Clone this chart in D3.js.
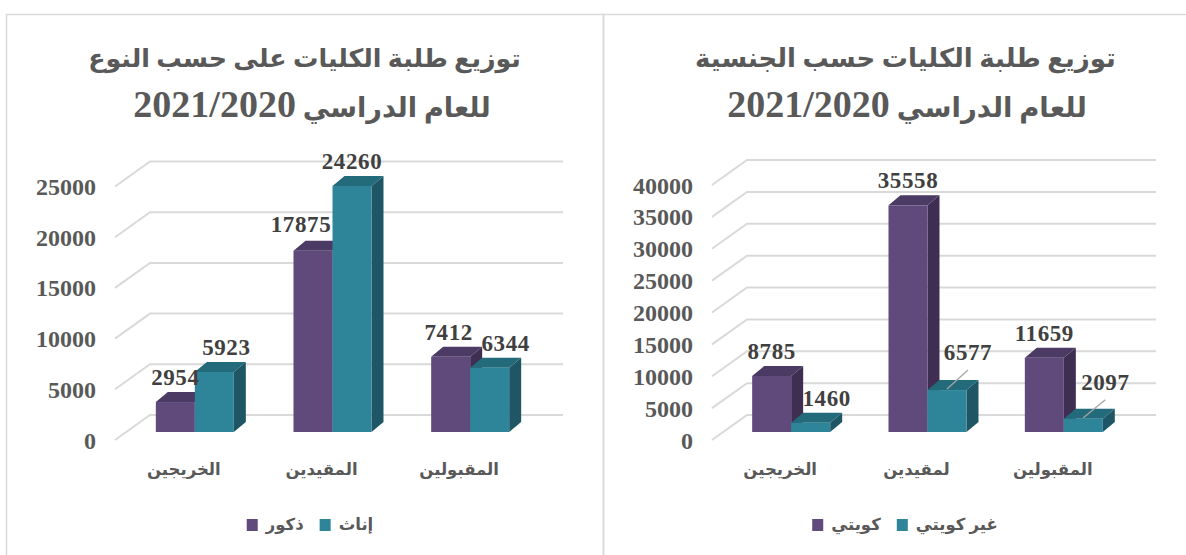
<!DOCTYPE html>
<html>
<head>
<meta charset="utf-8">
<script src="https://cdn.jsdelivr.net/npm/d3@7"></script>
<style>
  body { margin: 0; background: #fff; }
  svg text { font-family: "Liberation Serif", "DejaVu Sans", serif; font-weight: bold; }
</style>
</head>
<body>
<svg id="svg-1" width="1186" height="555"></svg>
<script>
// chart 1 : by gender
const genderCategories = ["الخريجين", "المقيدين", "المقبولين"];
const genderSeries = ["ذكور", "إناث"];
const maleValues = [2954, 17875, 7412];
const femaleValues = [5923, 24260, 6344];
const genderTicks = [0, 5000, 10000, 15000, 20000, 25000];
const genderTitle = ["توزيع طلبة الكليات على حسب النوع", "للعام الدراسي 2021/2020"];

// chart 2 : by nationality
const nationCategories = ["الخريجين", "لمقيدين", "المقبولين"];
const nationSeries = ["كويتي", "غير كويتي"];
const kuwaitiValues = [8785, 35558, 11659];
const nonKuwaitiValues = [1460, 6577, 2097];
const nationTicks = [0, 5000, 10000, 15000, 20000, 25000, 30000, 35000, 40000];
const nationTitle = ["توزيع طلبة الكليات حسب الجنسية", "للعام الدراسي 2021/2020"];

const fronts = ["#5f4a7b", "#2e8599"],
  tops = ["#4b3a63", "#236a7b"],
  sides = ["#3e2f52", "#1f5666"];

const svg = d3.select("#svg-1");
svg.append("rect").attr("width", 1186).attr("height", 555).attr("fill", "#fff");

// font size that makes a string reach a given width
function fitSize(str, size, target) {
  const t = svg.append("text").style("font-size", size + "px").text(str);
  const len = t.node().getComputedTextLength();
  t.remove();
  return size * target / len;
}

function draw(opt) {
  const base = 432;             // floor of the bars
  const wall = [35, -25];       // front plane -> back wall
  const plane = [11, -8];       // front plane -> bar front
  const depth = [12, -10];      // bar depth
  const groupW = 78;

  const g = svg.append("g");

  g.append("rect")
    .attr("x", opt.frame[0] + 0.5).attr("y", 14.5)
    .attr("width", opt.frame[1] - opt.frame[0]).attr("height", 600)
    .attr("fill", "none").attr("stroke", "#d9d9d9").attr("stroke-width", 1.5);

  const x0 = d3.scaleBand().domain(opt.categories).range(opt.xRange);
  const x1 = d3.scaleBand().domain(opt.series).range([0, groupW]);
  const y = d3.scaleLinear().domain([0, d3.max(opt.ticks)]).range([base, opt.yTop]);

  // walls / gridlines
  const xa = opt.xRange[0], xb = opt.xRange[1];
  g.selectAll(".grid").data(opt.ticks).enter()
    .append("polyline")
    .attr("class", "grid")
    .attr("points", d => {
      const fy = y(d) + 8, by = fy + wall[1];
      return [[xa, fy], [xa + wall[0], by], [xb + wall[0], by]].join(" ");
    })
    .attr("fill", "none").attr("stroke", "#d9d9d9").attr("stroke-width", 2);

  g.selectAll(".tick").data(opt.ticks).enter()
    .append("text")
    .attr("class", "tick")
    .attr("x", xa - 19)
    .attr("y", d => y(d) + 16.5)
    .attr("text-anchor", "end")
    .style("font-size", "24px")
    .attr("fill", "#595959")
    .text(d => d);

  // bars
  const rows = [];
  opt.categories.forEach((c, i) => {
    opt.series.forEach((s, j) => rows.push({ c, s, i, j, v: opt.values[j][i] }));
  });
  const w = x1.bandwidth();
  rows.forEach(d => {
    d.x = x0(d.c) + (x0.step() - groupW) / 2 + plane[0] + x1(d.s);
    d.yt = y(d.v);
  });

  const bar = g.selectAll(".bar").data(rows).enter().append("g").attr("class", "bar");
  bar.append("polygon")
    .attr("points", d => [[d.x + w, d.yt], [d.x + w + depth[0], d.yt + depth[1]],
      [d.x + w + depth[0], base + depth[1]], [d.x + w, base]].join(" "))
    .attr("fill", d => sides[d.j]);
  bar.append("polygon")
    .attr("points", d => [[d.x, d.yt], [d.x + w, d.yt], [d.x + w + depth[0], d.yt + depth[1]],
      [d.x + depth[0], d.yt + depth[1]]].join(" "))
    .attr("fill", d => tops[d.j]);
  bar.append("rect")
    .attr("x", d => d.x).attr("y", d => d.yt)
    .attr("width", w).attr("height", d => base - d.yt)
    .attr("fill", d => fronts[d.j]);

  // data labels
  rows.forEach(d => {
    const sh = opt.shift[d.j][d.i];
    d.lx = d.x + w / 2 + sh[0];
    d.ly = d.yt - 17 + sh[1];
    d.leader = sh[1] < -5;
  });
  g.selectAll(".leader").data(rows.filter(d => d.leader)).enter()
    .append("line")
    .attr("x1", d => d.lx).attr("y1", d => d.ly + 10)
    .attr("x2", d => d.x + w / 2).attr("y2", d => d.yt - 1)
    .attr("stroke", "#a6a6a6").attr("stroke-width", 1.3);
  g.selectAll(".label").data(rows).enter()
    .append("text")
    .attr("x", d => d.lx).attr("y", d => d.ly)
    .attr("text-anchor", "middle")
    .style("font-size", "23px")
    .style("letter-spacing", "0.6px")
    .attr("fill", "#404040")
    .text(d => d.v);

  // category axis
  g.selectAll(".cat").data(opt.categories).enter()
    .append("text")
    .attr("x", d => x0(d) + x0.step() / 2)
    .attr("y", 475)
    .attr("text-anchor", "middle")
    .style("font-size", "16.5px")
    .attr("fill", "#595959")
    .text(d => d);

  // title
  g.append("text")
    .attr("x", opt.titleX[0]).attr("y", 67)
    .attr("text-anchor", "middle")
    .style("direction", "rtl")
    .style("font-size", fitSize(opt.title[0], 30, opt.titleW[0]) + "px")
    .attr("fill", "#595959")
    .text(opt.title[0]);

  const sp = opt.title[1].lastIndexOf(" ");
  const ar = opt.title[1].slice(0, sp), num = opt.title[1].slice(sp + 1);
  const t2 = g.append("text")
    .attr("x", opt.titleX[1]).attr("y", 117)
    .attr("text-anchor", "middle")
    .style("direction", "rtl")
    .attr("fill", "#595959");
  t2.append("tspan").style("font-size", fitSize(ar, 30, opt.titleW[1]) + "px").text(ar + " ");
  t2.append("tspan").style("font-size", "38px").text(num);

  // legend
  const lg = g.append("g");
  let cx = 0;
  opt.series.forEach((s, j) => {
    if (j > 0) cx += 16;
    lg.append("rect").attr("x", cx).attr("y", 519).attr("width", 11).attr("height", 12)
      .attr("fill", fronts[j]);
    cx += 19;
    const t = lg.append("text").attr("x", cx).attr("y", 530)
      .style("font-size", "16.5px").attr("fill", "#595959").text(s);
    cx += t.node().getComputedTextLength();
  });
  lg.attr("transform", "translate(" + (opt.legendX - cx / 2) + ",0)");
}

draw({
  frame: [6, 603],
  categories: genderCategories,
  series: genderSeries,
  values: [maleValues, femaleValues],
  ticks: genderTicks,
  title: genderTitle,
  xRange: [115, 528],
  yTop: 178.5,
  shift: [[[0, 0], [-12, -2], [-2, 0]], [[12, 0], [0, 0], [16, 0]]],
  titleX: [304.5, 312],
  titleW: [433, 188],
  legendX: 310
});

draw({
  frame: [603, 1200],
  categories: nationCategories,
  series: nationSeries,
  values: [kuwaitiValues, nonKuwaitiValues],
  ticks: nationTicks,
  title: nationTitle,
  xRange: [712, 1121],
  yTop: 177,
  shift: [[[0, 0], [0, 0], [0, 0]], [[16, 0], [21, -13], [22, -12]]],
  titleX: [905.5, 907],
  titleW: [421, 190],
  legendX: 905
});
</script>
</body>
</html>
